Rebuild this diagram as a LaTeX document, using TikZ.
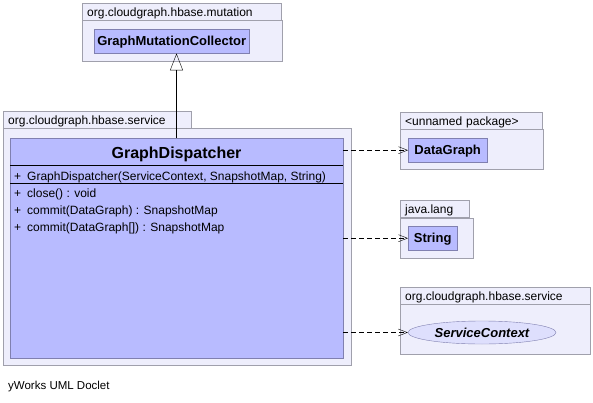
\documentclass[tikz,border=0pt]{standalone}
\usepackage{fontspec}
\setmainfont{Liberation Sans}
\usetikzlibrary{arrows.meta,shapes.geometric}

\definecolor{classfill}{RGB}{184,187,255}
\definecolor{classline}{RGB}{128,128,176}
\definecolor{pkgfill}{RGB}{238,238,252}
\definecolor{pkgline}{RGB}{160,160,172}

\begin{document}
\begin{tikzpicture}[x=1pt, y=-1pt, inner sep=0pt]
		\tikzstyle{every node}=[align=left, text depth=0pt, font=\fontsize{12}{14}\selectfont]
		\tikzstyle{pkgtab}=[draw=pkgline, fill=pkgfill, anchor=north west, minimum height=17pt, inner xsep=5pt]
		\tikzstyle{pkgbody}=[draw=pkgline, fill=pkgfill, anchor=north west]
		\tikzstyle{classbox}=[draw=classline, fill=classfill, anchor=north west, font=\fontsize{13}{15}\bfseries\selectfont]
		\tikzstyle{member}=[anchor=west]
		\tikzstyle{depend}=[dashed, dash pattern=on 5pt off 3pt, -{Straight Barb[length=9pt, width=7pt]}]
			\useasboundingbox (0,0) rectangle (593,403);

			% package org.cloudgraph.hbase.mutation
			\node[pkgtab, text width=189pt] (muttab) at (82,3) {org.cloudgraph.hbase.mutation};
			\node[pkgbody, minimum width=200pt, minimum height=41pt] (mutpkg) at (82,20) {};
			\node[classbox, minimum width=155pt, minimum height=24pt] (mutcoll) at (94,29) {GraphMutationCollector};

			% package org.cloudgraph.hbase.service
			\node[pkgtab, text width=178pt] (srvtab) at (3,111) {org.cloudgraph.hbase.service};
			\node[pkgbody, minimum width=348pt, minimum height=237pt] (srvpkg) at (3,128) {};
			\node[classbox, minimum width=333pt, minimum height=219pt] (disp) at (10,138.5) {};
			\node[font=\fontsize{16}{18}\bfseries\selectfont] (dispname) at (176.5,153) {GraphDispatcher};
			\draw[black] (10,165.5) -- (343,165.5);
			\draw[black] (10,183.5) -- (343,183.5);
			\node[member] (ctor) at (14,176.5) {+\enspace GraphDispatcher(ServiceContext, SnapshotMap, String)};
			\node[member] (close) at (14,193) {+\enspace close() : void};
			\node[member] (commit) at (14,210) {+\enspace commit(DataGraph) : SnapshotMap};
			\node[member] (commitarr) at (14,227.5) {+\enspace commit(DataGraph[]) : SnapshotMap};

			% <unnamed package>
			\node[pkgtab, text width=132pt] (nonetab) at (400,112) {<unnamed package>};
			\node[pkgbody, minimum width=143pt, minimum height=40pt] (nonepkg) at (400,129) {};
			\node[classbox, minimum width=79pt, minimum height=24pt] (dgraph) at (408,138) {DataGraph};

			% package java.lang
			\node[pkgtab, text width=59pt] (langtab) at (400,200) {java.lang};
			\node[pkgbody, minimum width=73pt, minimum height=40pt] (langpkg) at (400,218) {};
			\node[classbox, minimum width=49pt, minimum height=24pt] (string) at (408,226) {String};

			% package org.cloudgraph.hbase.service (interface)
			\node[pkgtab, text width=180pt] (ifctab) at (400,287) {org.cloudgraph.hbase.service};
			\node[pkgbody, minimum width=190pt, minimum height=50pt] (ifcpkg) at (400,304) {};
			\node[ellipse, draw=classline, fill=pkgfill!70!classfill, minimum width=148pt, minimum height=23pt,
				font=\fontsize{13}{15}\bfseries\itshape\selectfont] (srvctx) at (482,332.5) {ServiceContext};

			% connectors
			\coordinate (gen) at (176.5,0);
			\draw[-{Triangle[open, length=17pt, width=13pt]}, fill=white] (disp.north -| gen) -- (mutcoll.south -| gen);
			\draw[depend] (disp.east |- dgraph.west) -- (dgraph.west);
			\draw[depend] (disp.east |- string.west) -- (string.west);
			\draw[depend] (disp.east |- srvctx.west) -- (srvctx.west);

			\node[anchor=west, font=\fontsize{11.5}{13}\selectfont] (footer) at (8,385) {yWorks UML Doclet};
		\end{tikzpicture}
\end{document}
